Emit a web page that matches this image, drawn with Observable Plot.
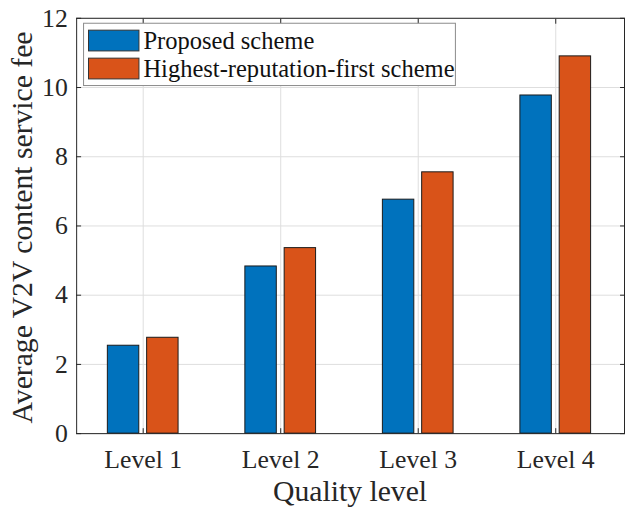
<!DOCTYPE html>
<html><head><meta charset="utf-8">
<script src="https://cdn.jsdelivr.net/npm/d3@7"></script>
<script src="https://cdn.jsdelivr.net/npm/@observablehq/plot@0.6"></script>
<style>
html,body{margin:0;padding:0;background:#fff;overflow:hidden;}
#chart{position:relative;width:625px;height:514px;overflow:hidden;}
</style></head><body><div id="chart"></div>
<script>
const levels = ["Level 1", "Level 2", "Level 3", "Level 4"];
const seriesNames = ["Proposed scheme", "Highest-reputation-first scheme"];
const proposed = [2.54, 4.83, 6.76, 9.77];
const highest = [2.77, 5.36, 7.55, 10.90];
const yTicks = [0, 2, 4, 6, 8, 10, 12];
const colors = ["#0072BD", "#D95319"];
const xLabel = "Quality level";
const yLabel = "Average V2V content service fee";

const seriesValues = [proposed, highest];
const nS = seriesNames.length;
const groupWidth = Math.min(0.8, nS / (nS + 1.5));
const barWidth = 0.8 * groupWidth / nS;
const data = [];
seriesValues.forEach((vals, s) => vals.forEach((v, i) => data.push({
  level: levels[i], pos: i + 1, series: seriesNames[s],
  center: i + 1 - groupWidth / 2 + (s + 0.5) * groupWidth / nS, value: v
})));
const positions = levels.map((_, i) => i + 1);

const axisColor = "#262626";
const gridColor = "#dedede";

const W = 632, H = 514, mL = 77, mR = 1, mT = 18, mB = 76;

const chart = Plot.plot({
  width: W, height: H,
  marginLeft: mL, marginRight: mR, marginTop: mT, marginBottom: mB,
  style: {fontFamily: "'Liberation Serif', 'Times New Roman', serif", fontSize: "26px", color: axisColor, background: "#fff"},
  x: {type: "linear", domain: [0.516, 4.5]},
  y: {domain: [0, 12]},
  color: {domain: seriesNames, range: colors},
  marks: [
    Plot.gridY(yTicks, {stroke: gridColor, strokeOpacity: 1}),
    Plot.gridX(positions, {stroke: gridColor, strokeOpacity: 1}),
    Plot.rectY(data, {
      x1: d => d.center - barWidth / 2,
      x2: d => d.center + barWidth / 2,
      y1: 0, y2: "value",
      fill: "series", stroke: "#1a1a1a", strokeWidth: 1
    }),
    Plot.frame({stroke: axisColor, strokeWidth: 1}),
    Plot.axisY(yTicks, {anchor: "left", tickSize: -5, tickPadding: 14, label: null, stroke: axisColor, fill: axisColor}),
    Plot.axisY(yTicks, {anchor: "right", tickSize: -5, fill: "none", label: null, stroke: axisColor}),
    Plot.axisX(positions, {anchor: "bottom", tickSize: -5, tickPadding: 21.5, label: null, tickFormat: d => levels[d - 1], stroke: axisColor, fill: axisColor}),
    Plot.axisX(positions, {anchor: "top", tickSize: -5, fill: "none", label: null, stroke: axisColor})
  ]
});

document.getElementById("chart").appendChild(chart);

// axis titles and legend
const svg = d3.select(chart);
svg.append("text")
  .attr("x", (mL + (W - mR)) / 2)
  .attr("y", 507)
  .attr("text-anchor", "middle")
  .attr("font-size", 30)
  .attr("fill", axisColor)
  .text(xLabel);
svg.append("text")
  .attr("transform", `translate(32,${(mT + (H - mB)) / 2 + 2}) rotate(-90)`)
  .attr("text-anchor", "middle")
  .attr("font-size", 30)
  .attr("fill", axisColor)
  .text(yLabel);

const lg = svg.append("g");
lg.append("rect").attr("x", 84.5).attr("y", 23.5).attr("width", 376).attr("height", 63)
  .attr("fill", "#fff").attr("stroke", "#8a8a8a").attr("stroke-width", 1);
seriesNames.forEach((name, s) => {
  lg.append("rect").attr("x", 89.5).attr("y", 30.5 + s * 28.3).attr("width", 51).attr("height", 21)
    .attr("fill", colors[s]).attr("stroke", "#333").attr("stroke-width", 1);
  lg.append("text").attr("x", 145).attr("y", 50 + s * 28)
    .attr("text-anchor", "start")
    .attr("font-size", 24.8).attr("fill", "#111").text(name);
});
</script>
</body></html>
